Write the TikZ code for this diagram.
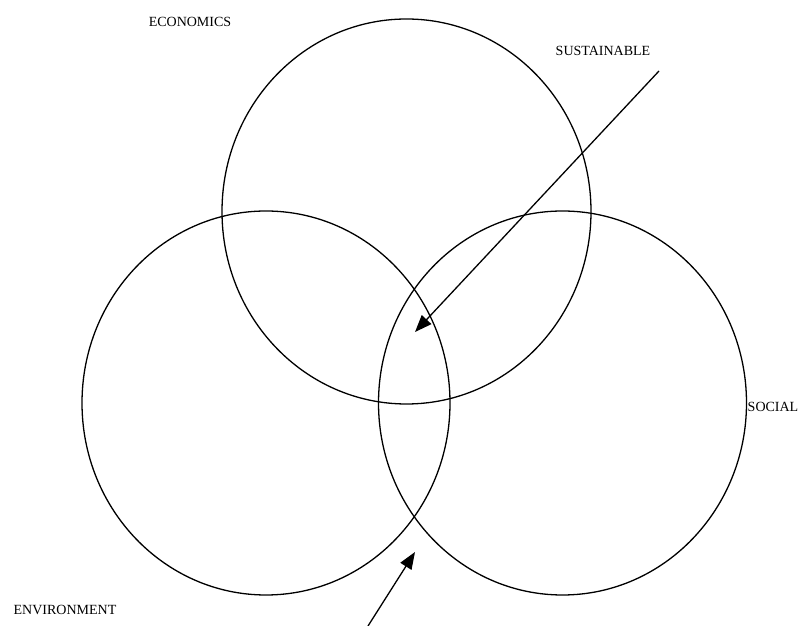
\documentclass[tikz,border=0pt]{standalone}
\usepackage{fontspec}
\setmainfont{Liberation Serif}
\usetikzlibrary{arrows.meta}
\tikzset{
  ring/.style={line width=1.3pt},
  pointer/.style={line width=1.3pt,-{Triangle[length=17pt,width=13pt]}},
  lbl/.style={font=\fontsize{14}{16}\selectfont,inner sep=0pt}
}
\begin{document}
\begin{tikzpicture}[x=1pt,y=1pt]
    \useasboundingbox (0,0) rectangle (811,626);
    % the three rings
    \draw[ring] (406.5,414.5) ellipse (184.5 and 192.5);
    \draw[ring] (266,223) ellipse (184 and 192);
    \draw[ring] (562.5,223) ellipse (184 and 192);
    % labels
    \node[lbl] (econ) at (190,604) {ECONOMICS};
    \node[lbl] (sust) at (603,575) {SUSTAINABLE};
    \node[lbl] (social) at (773,219) {SOCIAL};
    \node[lbl] (env) at (65,16) {ENVIRONMENT};
    % pointers
    \coordinate (sfrom) at (659,555);
    \coordinate (sto) at (415,294);
    \coordinate (bfrom) at (368,0);
    \coordinate (bto) at (415,74);
    \draw[pointer] (sfrom) -- (sto);
    \draw[pointer] (bfrom) -- (bto);
\end{tikzpicture}
\end{document}
